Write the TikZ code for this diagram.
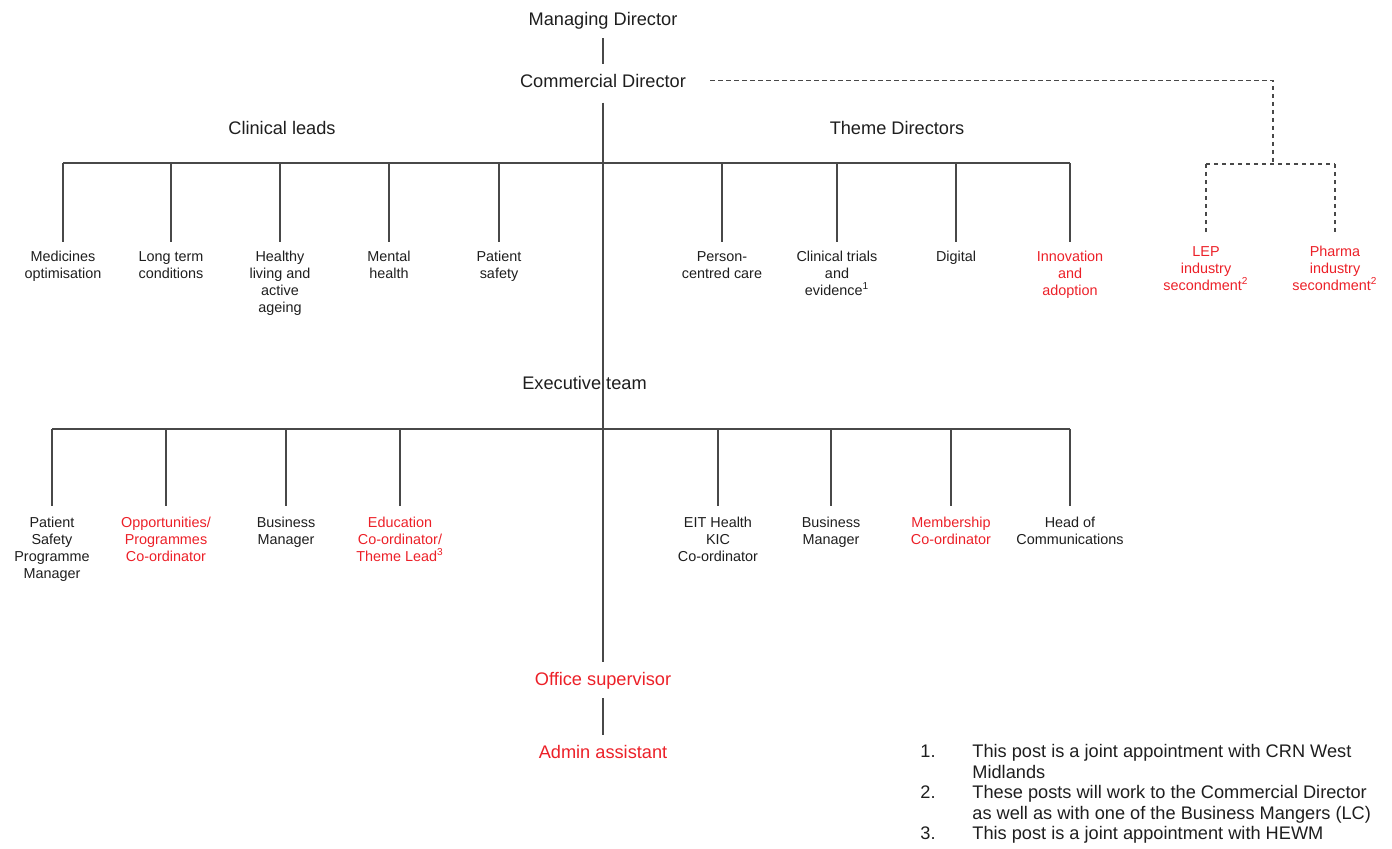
\documentclass[tikz,border=0pt]{standalone}
\usepackage{fontspec}
\setmainfont{Liberation Sans}
\definecolor{newpost}{RGB}{236,32,40}
\definecolor{linegray}{RGB}{72,72,72}
\definecolor{ink}{RGB}{30,30,30}
\begin{document}
\begin{tikzpicture}[x=0.5pt,y=-0.5pt,
  title/.style={font=\fontsize{9.1}{11}\selectfont, text=ink, inner xsep=0pt, inner ysep=4.5pt, anchor=base},
  lead/.style={font=\fontsize{7.2}{8.5}\selectfont, text=ink, align=center, inner xsep=0pt, anchor=north},
  toprow/.style={lead, inner ysep=4.5pt},
  siderow/.style={lead, inner ysep=5.5pt},
  botrow/.style={lead, inner ysep=5.5pt},
  vacant/.style={text=newpost},
  note/.style={font=\fontsize{9.1}{10.25}\selectfont, text=ink, inner sep=0pt},
  link/.style={draw=linegray, line width=0.8pt},
  dotlink/.style={link, dash pattern=on 2.2pt off 1.8pt}]

\useasboundingbox (0,0) rectangle (1392,848);

% directors
\node[title] (md) at (603,25) {Managing Director};
\node[title] (cd) at (603,87) {Commercial Director};
\node[title] (clin) at (282,134) {Clinical leads};
\node[title] (theme) at (897,134) {Theme Directors};
\node[title] (exec) at (584.5,389) {Executive team};

% clinical leads and theme directors
\node[toprow] (l1) at (63,242)   {Medicines\\optimisation};
\node[toprow] (l2) at (171,242)  {Long term\\conditions};
\node[toprow] (l3) at (280,242)  {Healthy\\living and\\active\\ageing};
\node[toprow] (l4) at (389,242)  {Mental\\health};
\node[toprow] (l5) at (499,242)  {Patient\\safety};
\node[toprow] (l6) at (722,242)  {Person-\\centred care};
\node[toprow] (l7) at (837,242)  {Clinical trials\\and\\evidence\textsuperscript{1}};
\node[toprow] (l8) at (956,242)  {Digital};
\node[toprow, vacant] (l9) at (1070,242) {Innovation\\and\\adoption};

% secondments
\node[siderow, vacant] (lep) at (1206,235) {LEP\\industry\\secondment\textsuperscript{2}};
\node[siderow, vacant] (ph) at (1335,235) {Pharma\\industry\\secondment\textsuperscript{2}};

% executive team
\node[botrow] (e1) at (52,506)   {Patient\\Safety\\Programme\\Manager};
\node[botrow, vacant] (e2) at (166,506) {Opportunities/\\Programmes\\Co-ordinator};
\node[botrow] (e3) at (286,506)  {Business\\Manager};
\node[botrow, vacant] (e4) at (400,506) {Education\\Co-ordinator/\\Theme Lead\textsuperscript{3}};
\node[botrow] (e5) at (718,506)  {EIT Health\\KIC\\Co-ordinator};
\node[botrow] (e6) at (831,506)  {Business\\Manager};
\node[botrow, vacant] (e7) at (951,506) {Membership\\Co-ordinator};
\node[botrow] (e8) at (1070,506) {Head of\\Communications};

% office
\node[title, vacant] (os) at (603,685) {Office supervisor};
\node[title, vacant] (aa) at (603,758) {Admin assistant};

% junctions
\coordinate (tbar) at (603,163);
\coordinate (ebar) at (603,429);
\coordinate (sjoin) at (1273,164);

% solid reporting lines
\draw[link] (md.south) -- (cd.north);
\draw[link] ([yshift=-3pt]cd.south) -- (os.north);
\draw[link] (os.south) -- (aa.north);
\draw[link] (tbar -| l1.north) -- (tbar -| l9.north);
\foreach \n in {l1,l2,l3,l4,l5,l6,l7,l8,l9}
  \draw[link] (tbar -| \n.north) -- (\n.north);
\draw[link] (ebar -| e1.north) -- (ebar -| e8.north);
\foreach \n in {e1,e2,e3,e4,e5,e6,e7,e8}
  \draw[link] (ebar -| \n.north) -- (\n.north);

% dashed secondment lines
\draw[dotlink] ([xshift=12pt]cd.east) -| (sjoin);
\draw[dotlink] (sjoin -| lep.north) -- (sjoin -| ph.north);
\draw[dotlink] (sjoin -| lep.north) -- (lep.north);
\draw[dotlink] (sjoin -| ph.north) -- (ph.north);

% footnotes
\node[note, anchor=base west] (n1) at (920,757) {1.};
\node[note, anchor=base west] (n2) at (920,798) {2.};
\node[note, anchor=base west] (n3) at (920,839) {3.};
\node[note, anchor=north west, align=left] (t1) at (972,744) {This post is a joint appointment with CRN West\\Midlands};
\node[note, anchor=north west, align=left] (t2) at (972,785) {These posts will work to the Commercial Director\\as well as with one of the Business Mangers (LC)};
\node[note, anchor=north west, align=left] (t3) at (972,826) {This post is a joint appointment with HEWM};
\end{tikzpicture}
\end{document}
